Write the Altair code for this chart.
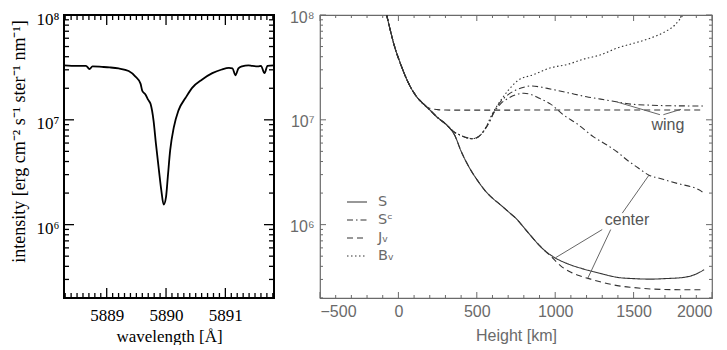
import math
import altair as alt
import pandas as pd

# ---------------- left panel: observed Na D2 spectrum ----------------
WAVELENGTH = [5888.28, 5888.50, 5888.65, 5888.71, 5888.76, 5888.92, 5889.05, 5889.20, 5889.37, 5889.48,
              5889.57, 5889.60, 5889.65, 5889.70, 5889.74, 5889.79, 5889.83, 5889.88, 5889.92, 5889.96,
              5890.00, 5890.03, 5890.07, 5890.13, 5890.21, 5890.33, 5890.44, 5890.61, 5890.78, 5890.94,
              5891.06, 5891.12, 5891.17, 5891.22, 5891.28, 5891.39, 5891.45, 5891.55, 5891.60, 5891.66,
              5891.71, 5891.82]
LOG_INTENSITY = [7.52, 7.515, 7.515, 7.485, 7.51, 7.505, 7.50, 7.49, 7.465, 7.415,
                 7.345, 7.275, 7.245, 7.19, 7.15, 6.99, 6.77, 6.52, 6.33, 6.19,
                 6.265, 6.455, 6.71, 6.925, 7.09, 7.21, 7.305, 7.385, 7.445, 7.48,
                 7.495, 7.49, 7.425, 7.49, 7.51, 7.52, 7.515, 7.51, 7.515, 7.445,
                 7.515, 7.52]

# ---------------- right panel: source functions vs height (log10 values) ----------------
S_CENTER_H = [-75, -60, -28, 15, 68, 120, 184, 248, 312, 360, 400, 450, 503, 550, 589, 650, 700, 758, 810, 865,
              920, 971, 1003, 1050, 1100, 1184, 1300, 1396, 1500, 1609, 1700, 1821, 1900, 1950]
S_CENTER_LOG = [8.0, 7.906, 7.717, 7.528, 7.339, 7.213, 7.119, 7.024, 6.945, 6.85, 6.70, 6.55, 6.425, 6.33, 6.268,
                6.19, 6.125, 6.047, 5.955, 5.858, 5.77, 5.71, 5.68, 5.645, 5.615, 5.575, 5.53, 5.497, 5.485, 5.48,
                5.485, 5.497, 5.53, 5.57]

SC_WING_H = [-75, -60, -28, 15, 68, 120, 184, 248, 312, 350, 400, 440, 470, 500, 546, 580, 610, 650, 700, 750,
             800, 843, 900, 950, 1077, 1200, 1290, 1400, 1481, 1600, 1700, 1800, 1949]
SC_WING_LOG = [8.0, 7.906, 7.717, 7.528, 7.339, 7.213, 7.119, 7.024, 6.945, 6.89, 6.85, 6.828, 6.82, 6.83, 6.897,
               6.98, 7.08, 7.17, 7.24, 7.285, 7.31, 7.323, 7.315, 7.30, 7.26, 7.22, 7.197, 7.17, 7.15, 7.14,
               7.135, 7.133, 7.132]

SC_CENTER_H = [-75, -60, -28, 15, 68, 120, 184, 248, 312, 350, 400, 440, 470, 500, 546, 580, 610, 650, 700, 750,
               801, 850, 900, 971, 1050, 1141, 1247, 1330, 1396, 1460, 1530, 1598, 1670, 1737, 1800, 1864, 1920, 1949]
SC_CENTER_LOG = [8.0, 7.906, 7.717, 7.528, 7.339, 7.213, 7.119, 7.024, 6.945, 6.89, 6.85, 6.828, 6.82, 6.83, 6.897,
                 6.98, 7.07, 7.15, 7.205, 7.24, 7.254, 7.24, 7.205, 7.15, 7.05, 6.96, 6.835, 6.76, 6.693, 6.614,
                 6.54, 6.472, 6.44, 6.41, 6.385, 6.363, 6.33, 6.30]

J_WING_H = [-75, -60, -28, 15, 68, 120, 142, 170, 200, 250, 300, 400, 600, 800, 1200, 1600, 1949]
J_WING_LOG = [8.0, 7.906, 7.717, 7.528, 7.339, 7.213, 7.18, 7.13, 7.11, 7.097, 7.093, 7.092, 7.092, 7.093,
              7.093, 7.093, 7.093]

J_CENTER_H = [-75, -60, -28, 15, 68, 120, 184, 248, 312, 360, 400, 450, 503, 550, 589, 650, 700, 758, 810, 865,
              920, 971, 1035, 1100, 1160, 1226, 1300, 1396, 1500, 1609, 1750, 1949]
J_CENTER_LOG = [8.0, 7.906, 7.717, 7.528, 7.339, 7.213, 7.119, 7.024, 6.945, 6.85, 6.70, 6.55, 6.425, 6.33, 6.268,
                6.19, 6.125, 6.047, 5.955, 5.858, 5.77, 5.70, 5.607, 5.545, 5.51, 5.48, 5.45, 5.418, 5.40, 5.386,
                5.38, 5.378]

B_H = [-75, -60, -28, 15, 68, 120, 184, 248, 312, 350, 400, 440, 470, 500, 546, 600, 650, 700, 758, 865,
       971, 1077, 1184, 1290, 1396, 1500, 1609, 1700, 1760, 1800, 1830]
B_LOG = [8.0, 7.906, 7.717, 7.528, 7.339, 7.213, 7.119, 7.024, 6.945, 6.89, 6.85, 6.828, 6.82, 6.83, 6.897,
         7.06, 7.18, 7.28, 7.37, 7.433, 7.496, 7.528, 7.58, 7.62, 7.685, 7.73, 7.78, 7.84, 7.90, 7.969, 8.03]

SERIES_ORDER = ["S", "Sᶜ", "Jᵥ", "Bᵥ"]

# annotations
NOTE_LABEL = ["wing", "center"]
NOTE_H = [1719, 1458]
NOTE_LOG = [6.951, 6.044]
POINTER_H1 = [1668, 1690, 1300, 1354, 1428]
POINTER_LOG1 = [7.049, 7.049, 5.953, 5.953, 6.11]
POINTER_H2 = [1394, 1802, 1003, 1205, 1598]
POINTER_LOG2 = [7.17, 7.10, 5.685, 5.48, 6.472]

# ---------------- data frames ----------------
spec_df = pd.DataFrame({"wl": WAVELENGTH, "logI": LOG_INTENSITY})

rows = []
for name, kind, hs, vs in [
    ("S", "center", S_CENTER_H, S_CENTER_LOG),
    ("Sᶜ", "center", SC_CENTER_H, SC_CENTER_LOG),
    ("Sᶜ", "wing", SC_WING_H, SC_WING_LOG),
    ("Jᵥ", "center", J_CENTER_H, J_CENTER_LOG),
    ("Jᵥ", "wing", J_WING_H, J_WING_LOG),
    ("Bᵥ", "all", B_H, B_LOG),
]:
    for h, v in zip(hs, vs):
        rows.append({"series": name, "curve": name + "-" + kind, "h": h, "logI": v})
src_df = pd.DataFrame(rows)
note_df = pd.DataFrame({"label": NOTE_LABEL, "h": NOTE_H, "logI": NOTE_LOG})
ptr_df = pd.DataFrame({"h1": POINTER_H1, "v1": POINTER_LOG1, "h2": POINTER_H2, "v2": POINTER_LOG2})

# ---------------- geometry / styling ----------------
W1, H1 = 210, 283
W2, H2 = 392, 283
YDOM = [5.3, 8.0]
XDOM1 = [5888.28, 5891.82]
XDOM2 = [-500, 2000]

Y_MAJOR = [6, 7, 8]
Y_MINOR = [round(e + math.log10(k), 4) for e in (5, 6, 7) for k in range(2, 10)
           if YDOM[0] <= e + math.log10(k) <= YDOM[1]]
X1_MAJOR = [5889, 5890, 5891]
X1_MINOR = [round(5888.3 + 0.1 * i, 1) for i in range(36) if i % 10 != 7]
X2_MAJOR = [-500, 0, 500, 1000, 1500, 2000]
X2_MINOR = [v for v in range(-400, 2000, 100) if v % 500 != 0]

LABEL_EXPR = "'10' + (datum.value == 6 ? '⁶' : datum.value == 7 ? '⁷' : '⁸')"

SERIF = "Liberation Serif"
SANS = "Liberation Sans"
GREY = "#6a6a6a"


def edge_ticks(values, chan, edge, length, dom, W, H, color, width):
    """Inward-pointing frame ticks placed through the panel's own scales."""
    tdf = pd.DataFrame({"t": values})
    sc = alt.Scale(domain=dom, nice=False, zero=False)
    if chan == "x":
        enc = dict(x=alt.X("t", type="quantitative", scale=sc, axis=None))
        if edge == "top":
            enc.update(y=alt.value(0), y2=alt.value(length))
        else:
            enc.update(y=alt.value(H), y2=alt.value(H - length))
    else:
        enc = dict(y=alt.Y("t", type="quantitative", scale=sc, axis=None))
        if edge == "left":
            enc.update(x=alt.value(0), x2=alt.value(length))
        else:
            enc.update(x=alt.value(W), x2=alt.value(W - length))
    return alt.Chart(tdf).mark_rule(color=color, strokeWidth=width).encode(**enc)


def frame_ticks(xdom, W, H, xmaj, xmin, big, small, color, width):
    out = []
    for edge in ("top", "bottom"):
        out.append(edge_ticks(xmaj, "x", edge, big, xdom, W, H, color, width))
        out.append(edge_ticks(xmin, "x", edge, small, xdom, W, H, color, width))
    for edge in ("left", "right"):
        out.append(edge_ticks(Y_MAJOR, "y", edge, big, YDOM, W, H, color, width))
        out.append(edge_ticks(Y_MINOR, "y", edge, small, YDOM, W, H, color, width))
    return out


# ---------------- left panel ----------------
left_main = alt.Chart(spec_df).mark_line(color="black", strokeWidth=1.8, interpolate="monotone",
                                         clip=True).encode(
    x=alt.X("wl", type="quantitative", scale=alt.Scale(domain=XDOM1, nice=False, zero=False),
            axis=alt.Axis(values=X1_MAJOR, format="d", ticks=False, domain=False, grid=False,
                          labelFont=SERIF, labelFontSize=17, labelColor="black", labelPadding=9,
                          title="wavelength [Å]", titleFont=SERIF, titleFontSize=17, titleFontWeight="normal",
                          titleColor="black", titlePadding=5)),
    y=alt.Y("logI", type="quantitative", scale=alt.Scale(domain=YDOM, nice=False, zero=False),
            axis=alt.Axis(values=Y_MAJOR, labelExpr=LABEL_EXPR, ticks=False, domain=False,
                          grid=False, labelFont=SERIF, labelFontSize=17, labelColor="black", labelPadding=5,
                          labelOffset=4,
                          title="intensity [erg cm⁻² s⁻¹ ster⁻¹ nm⁻¹]", titleFont=SERIF, titleFontSize=18,
                          titleFontWeight="normal", titleColor="black", titleX=-36, titleY=126)),
)
left = alt.layer(
    left_main,
    *frame_ticks(XDOM1, W1, H1, X1_MAJOR, X1_MINOR, 10, 5, "black", 1.3),
).resolve_axis(x="independent", y="independent").properties(
    width=W1, height=H1, view=alt.ViewBackground(stroke="black", strokeWidth=2))

# ---------------- right panel ----------------
right_main = alt.Chart(src_df).mark_line(color="#333333", strokeWidth=1.1, interpolate="monotone",
                                         clip=True).encode(
    x=alt.X("h", type="quantitative", scale=alt.Scale(domain=XDOM2, nice=False, zero=False),
            axis=alt.Axis(values=X2_MAJOR, format="d", ticks=False, domain=False, grid=False,
                          labelFont=SANS, labelFontSize=16, labelColor=GREY, labelPadding=5,
                          title="Height [km]", titleFont=SANS, titleFontSize=16, titleFontWeight="normal",
                          titleColor=GREY, titlePadding=8)),
    y=alt.Y("logI", type="quantitative", scale=alt.Scale(domain=YDOM, nice=False, zero=False),
            axis=alt.Axis(values=Y_MAJOR, labelExpr=LABEL_EXPR, ticks=False, domain=False,
                          grid=False, labelFont=SANS, labelFontSize=16, labelColor=GREY, labelPadding=6,
                          labelOffset=2, title=None)),
    strokeDash=alt.StrokeDash(
        "series", type="nominal",
        scale=alt.Scale(domain=SERIES_ORDER, range=[[1, 0], [6, 3, 1.5, 3], [6, 4], [1.5, 2.5]]),
        legend=alt.Legend(orient="none", legendX=282, legendY=176, title=None, padding=0,
                          symbolType="stroke", symbolSize=400, symbolStrokeWidth=1.1,
                          symbolStrokeColor="#333333", labelFont="DejaVu Sans", labelFontSize=14.5,
                          labelColor=GREY, labelOffset=10, rowPadding=0)),
    detail="curve:N",
    order=alt.Order("h", type="quantitative"),
)
pointers = alt.Chart(ptr_df).mark_rule(color="#555555", strokeWidth=0.9).encode(
    x=alt.X("h1", type="quantitative", axis=None), y=alt.Y("v1", type="quantitative", axis=None),
    x2="h2", y2="v2")
notes = alt.Chart(note_df).mark_text(font=SANS, fontSize=16, color="#555555", align="center",
                                       baseline="middle").encode(
    x=alt.X("h", type="quantitative", axis=None), y=alt.Y("logI", type="quantitative", axis=None),
    text="label")

right = alt.layer(
    right_main,
    *frame_ticks(XDOM2, W2, H2, X2_MAJOR, X2_MINOR, 6, 3, GREY, 1),
    pointers, notes,
).resolve_axis(x="independent", y="independent").properties(
    width=W2, height=H2, view=alt.ViewBackground(stroke=GREY, strokeWidth=1.2))

chart = alt.hconcat(left, right, spacing=12).properties(padding=0, background="white")
chart.save("out.html", embed_options={"renderer": "svg", "actions": False})
